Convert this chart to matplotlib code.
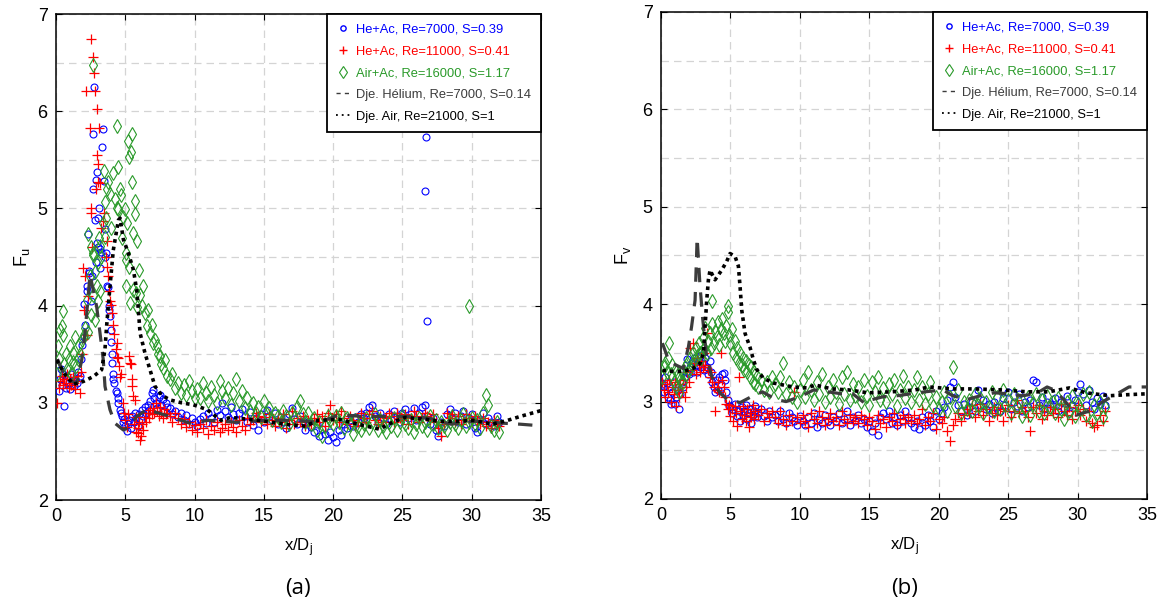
import matplotlib
matplotlib.use("Agg")
import matplotlib.pyplot as plt
from matplotlib.lines import Line2D
from matplotlib.ticker import MultipleLocator

plt.rcParams["font.family"] = ["Liberation Sans", "DejaVu Sans"]
plt.rcParams["mathtext.default"] = "regular"

# ---------------------------------------------------------------- data
# shared far-field stations x/Dj (8.2 .. 32.0)
x_far = [8.2, 8.4, 8.6, 8.8, 9.0, 9.2, 9.4, 9.6, 9.8, 10.0,
         10.2, 10.4, 10.6, 10.8, 11.0, 11.2, 11.4, 11.6, 11.8, 12.0,
         12.2, 12.4, 12.6, 12.8, 13.0, 13.2, 13.4, 13.6, 13.8, 14.0,
         14.2, 14.4, 14.6, 14.8, 15.0, 15.2, 15.4, 15.6, 15.8, 16.0,
         16.2, 16.4, 16.6, 16.8, 17.0, 17.2, 17.4, 17.6, 17.8, 18.0,
         18.2, 18.4, 18.6, 18.8, 19.0, 19.2, 19.4, 19.6, 19.8, 20.0,
         20.2, 20.4, 20.6, 20.8, 21.0, 21.2, 21.4, 21.6, 21.8, 22.0,
         22.2, 22.4, 22.6, 22.8, 23.0, 23.2, 23.4, 23.6, 23.8, 24.0,
         24.2, 24.4, 24.6, 24.8, 25.0, 25.2, 25.4, 25.6, 25.8, 26.0,
         26.2, 26.4, 26.6, 26.8, 27.0, 27.2, 27.4, 27.6, 27.8, 28.0,
         28.2, 28.4, 28.6, 28.8, 29.0, 29.2, 29.4, 29.6, 29.8, 30.0,
         30.2, 30.4, 30.6, 30.8, 31.0, 31.2, 31.4, 31.6, 31.8, 32.0]

# ---- panel (a): F_u
a_he7_x = [0.2, 0.3, 0.35, 0.4, 0.5, 0.6, 0.65, 0.7, 0.8, 0.9, 1.0, 1.1, 1.2, 1.3,
           1.4, 1.5, 1.6, 1.7, 1.8, 1.9, 2.0, 2.05, 2.1, 2.2, 2.25, 2.3, 2.35, 2.4,
           2.5, 2.6, 2.65, 2.7, 2.75, 2.8, 2.85, 2.9, 2.93, 2.95, 3.0, 3.05, 3.1,
           3.15, 3.2, 3.25, 3.35, 3.4, 3.45, 3.5, 3.55, 3.6, 3.7, 3.75, 3.8, 3.85,
           3.9, 3.95, 4.0, 4.02, 4.05, 4.1, 4.13, 4.2, 4.3, 4.38, 4.45, 4.5, 4.6,
           4.66, 4.75, 4.85, 4.9, 5.0, 5.1, 5.2, 5.3, 5.4, 5.5, 5.6, 5.7, 5.8, 5.9,
           6.0, 6.1, 6.2, 6.3, 6.4, 6.5, 6.6, 6.7, 6.8, 6.9, 7.0, 7.1, 7.2, 7.3,
           7.4, 7.5, 7.6, 7.7, 7.8, 7.9, 8.0]
a_he7_y = [3.12, 3.25, 3.35, 3.18, 3.3, 2.97, 3.22, 3.15, 3.28, 3.2, 3.14, 3.3, 3.22, 3.17,
           3.25, 3.2, 3.32, 3.28, 3.45, 3.6, 3.68, 4.02, 3.8, 4.15, 4.2, 4.74, 4.34, 4.36,
           4.05, 4.3, 5.2, 5.77, 6.25, 4.88, 4.45, 5.29, 5.37, 4.64, 4.9, 4.6, 5.0,
           4.39, 4.58, 4.55, 5.63, 5.82, 5.28, 4.79, 4.5, 4.54, 4.2, 4.19, 4.0, 3.96,
           3.89, 3.75, 3.63, 3.41, 3.5, 3.3, 3.24, 3.2, 3.12, 3.1, 3.05, 3.0, 2.93,
           2.9, 2.86, 2.8, 2.83, 2.76, 2.71, 2.78, 2.82, 2.74, 2.86, 2.8, 2.9, 2.84, 2.76,
           2.88, 2.82, 2.93, 2.86, 2.96, 2.9, 2.98, 2.93, 3.02, 3.1, 3.13, 3.05, 3.0, 2.95,
           3.06, 3.08, 2.98, 3.04, 2.92, 3.0, 2.96]
a_he7_far = [2.95, 2.88, 2.92, 2.85, 2.9, 2.82, 2.87, 2.78, 2.84, 2.8,
             2.76, 2.83, 2.86, 2.79, 2.9, 2.84, 2.8, 2.93, 2.87, 3.0,
             2.92, 2.85, 2.96, 2.88, 2.82, 2.9, 2.94, 2.86, 2.8, 2.91,
             2.77, 2.84, 2.72, 2.88, 2.8, 2.93, 2.86, 2.82, 2.9, 2.78,
             2.85, 2.8, 2.74, 2.88, 2.95, 2.83, 2.78, 2.86, 2.81, 2.72,
             2.8, 2.75, 2.7, 2.78, 2.66, 2.73, 2.68, 2.62, 2.7, 2.65,
             2.6, 2.72, 2.67, 2.78, 2.74, 2.82, 2.76, 2.85, 2.8, 2.88,
             2.84, 2.9, 2.96, 2.98, 2.86, 2.8, 2.9, 2.84, 2.78, 2.88,
             2.82, 2.92, 2.86, 2.8, 2.9, 2.94, 2.84, 2.88, 2.95, 2.82,
             2.9, 2.96, 2.98, 2.86, 2.78, 2.84, 2.72, 2.66, 2.8, 2.76,
             2.88, 2.94, 2.84, 2.9, 2.8, 2.86, 2.92, 2.78, 2.84, 2.88,
             2.74, 2.7, 2.82, 2.9, 2.78, 2.84, 2.8, 2.76, 2.86, 2.8]
a_he7_out_x = [26.7, 26.65, 26.8]
a_he7_out_y = [5.73, 5.18, 3.84]

a_he11_x = [0.1, 0.2, 0.3, 0.4, 0.5, 0.6, 0.7, 0.8, 0.9, 1.0, 1.1, 1.2, 1.3, 1.4, 1.5,
            1.6, 1.7, 1.8, 1.9, 1.98, 2.05, 2.12, 2.16, 2.2, 2.3, 2.42, 2.5, 2.52, 2.55,
            2.6, 2.69, 2.77, 2.82, 2.9, 2.94, 2.98, 3.03, 3.05, 3.08, 3.17, 3.25, 3.42,
            3.46, 3.6, 3.65, 3.7, 3.72, 3.8, 3.9, 4.0, 4.05, 4.1, 4.2, 4.3, 4.38, 4.43,
            4.5, 4.55, 4.62, 4.7, 4.8, 4.9, 5.0, 5.1, 5.2, 5.29, 5.34, 5.4, 5.45, 5.5,
            5.58, 5.6, 5.7, 5.75, 5.8, 5.9, 5.94, 6.0, 6.06, 6.1, 6.2, 6.3, 6.4, 6.5,
            6.6, 6.7, 6.8, 6.9, 7.0, 7.1, 7.2, 7.3, 7.4, 7.5, 7.6, 7.7, 7.8, 7.9, 8.0]
a_he11_y = [3.0, 3.15, 3.22, 3.28, 3.18, 3.25, 3.2, 3.3, 3.15, 3.24, 3.18, 3.27, 3.2, 3.14, 3.22,
            3.28, 3.1, 3.32, 3.5, 4.39, 3.95, 4.3, 6.21, 3.7, 4.1, 5.83, 6.74, 5.0, 4.95,
            4.6, 6.56, 6.39, 6.21, 5.2, 6.02, 5.55, 5.27, 5.46, 5.83, 5.26, 4.8, 4.87,
            4.95, 4.5, 4.66, 4.4, 4.3, 4.15, 4.05, 4.01, 3.92, 3.8, 3.71, 3.55, 3.62, 3.47,
            3.46, 3.38, 3.27, 3.3, 3.0, 2.9, 2.82, 2.75, 2.88, 3.48, 3.41, 3.4, 3.24, 3.17,
            3.07, 2.78, 3.03, 2.7, 2.85, 2.74, 2.69, 2.8, 2.62, 2.66, 2.78, 2.72, 2.85, 2.8,
            2.9, 2.84, 2.93, 2.88, 2.95, 2.9, 3.0, 2.92, 2.86, 2.96, 2.9, 2.84, 2.94, 2.88, 2.9]
a_he11_far = [2.86, 2.8, 2.9, 2.84, 2.78, 2.83, 2.75, 2.8, 2.72, 2.77,
              2.7, 2.78, 2.74, 2.82, 2.68, 2.76, 2.72, 2.8, 2.7, 2.74,
              2.78, 2.72, 2.8, 2.75, 2.7, 2.82, 2.76, 2.72, 2.84, 2.78,
              2.82, 2.9, 2.86, 2.8, 2.85, 2.78, 2.88, 2.82, 2.76, 2.84,
              2.8, 2.88, 2.74, 2.82, 2.92, 2.78, 2.84, 2.8, 2.86, 2.76,
              2.82, 2.78, 2.84, 2.88, 2.8, 2.86, 2.76, 2.9, 2.98, 2.82,
              2.88, 2.8, 2.92, 2.84, 2.78, 2.86, 2.82, 2.76, 2.8, 2.9,
              2.84, 2.8, 2.88, 2.92, 2.82, 2.78, 2.86, 2.8, 2.84, 2.9,
              2.86, 2.8, 2.9, 2.84, 2.82, 2.88, 2.78, 2.84, 2.92, 2.86,
              2.8, 2.84, 2.9, 2.86, 2.82, 2.88, 2.8, 2.74, 2.66, 2.78,
              2.9, 2.84, 2.88, 2.8, 2.86, 2.78, 2.82, 2.88, 2.84, 2.8,
              2.86, 2.82, 2.78, 2.84, 2.76, 2.8, 2.74, 2.82, 2.78, 2.76]

a_air16_x = [0.1, 0.17, 0.2, 0.3, 0.41, 0.5, 0.53, 0.6, 0.7, 0.8, 0.9, 1.0, 1.1, 1.2,
             1.25, 1.37, 1.45, 1.55, 1.65, 1.75, 1.85, 2.0, 2.09, 2.2, 2.33, 2.33, 2.45,
             2.5, 2.55, 2.64, 2.69, 2.69, 2.7, 2.8, 2.8, 2.93, 3.0, 3.0, 3.1, 3.17, 3.2,
             3.25, 3.41, 3.46, 3.53, 3.53, 3.6, 3.7, 3.77, 3.89, 4.0, 4.14, 4.25, 4.38,
             4.38, 4.5, 4.5, 4.6, 4.67, 4.75, 4.82, 4.98, 5.06, 5.06, 5.06, 5.1, 5.22,
             5.29, 5.3, 5.34, 5.39, 5.46, 5.46, 5.58, 5.58, 5.7, 5.7, 5.8, 5.82, 5.82,
             6.0, 6.06, 6.2, 6.3, 6.42, 6.54, 6.6, 6.78, 6.9, 7.0, 7.14, 7.26, 7.35, 7.5,
             7.6, 7.75, 7.86, 8.0]
a_air16_y = [3.3, 3.58, 3.45, 3.75, 3.79, 3.94, 3.7, 3.4, 3.5, 3.35, 3.45, 3.58, 3.3, 3.42,
             3.51, 3.68, 3.38, 3.45, 3.6, 3.5, 3.65, 3.7, 3.77, 4.06, 3.73, 4.74, 4.3,
             3.9, 4.6, 4.11, 4.52, 6.48, 4.54, 4.35, 3.85, 4.2, 4.45, 4.05, 4.7, 4.61, 4.15,
             4.5, 4.85, 5.39, 5.07, 4.71, 4.9, 5.2, 5.27, 5.15, 4.8, 5.36, 5.1, 5.85,
             5.0, 5.43, 4.99, 5.2, 5.14, 4.7, 4.91, 4.99, 4.54, 4.47, 4.2, 4.85, 5.69,
             5.53, 4.4, 4.03, 5.58, 5.77, 5.27, 4.75, 4.16, 5.08, 4.94, 4.13, 4.66, 3.99,
             4.37, 4.11, 4.0, 4.2, 3.92, 3.79, 3.95, 3.72, 3.8, 3.62, 3.65, 3.58, 3.5, 3.48,
             3.4, 3.36, 3.44, 3.28]
a_air16_far = [3.25, 3.3, 3.15, 3.2, 3.1, 3.18, 3.08, 3.22, 3.12, 3.05,
               3.14, 3.05, 3.2, 3.1, 3.02, 3.16, 3.08, 3.0, 3.22, 3.12,
               3.05, 3.15, 2.98, 3.1, 3.25, 3.02, 3.12, 2.95, 3.05, 2.92,
               3.0, 2.9, 2.96, 2.85, 3.02, 2.88, 2.95, 2.82, 2.9, 2.86,
               2.8, 2.92, 2.86, 2.78, 2.9, 2.84, 2.96, 3.02, 2.88, 2.8,
               2.9, 2.78, 2.84, 2.72, 2.8, 2.66, 2.76, 2.86, 2.82, 2.78,
               2.86, 2.8, 2.9, 2.74, 2.84, 2.78, 2.68, 2.82, 2.76, 2.72,
               2.78, 2.84, 2.74, 2.8, 2.88, 2.72, 2.82, 2.76, 2.7, 2.8,
               2.76, 2.84, 2.72, 2.8, 2.86, 2.78, 2.74, 2.82, 2.7, 2.78,
               2.84, 2.76, 2.8, 2.72, 2.86, 2.78, 2.82, 2.74, 2.8, 2.76,
               2.72, 2.8, 2.86, 2.78, 2.74, 2.82, 2.88, 2.76, 2.8, 2.84,
               2.78, 2.82, 2.74, 2.9, 3.08, 2.98, 2.76, 2.72, 2.8, 2.7]
a_air16_out_x = [29.8]
a_air16_out_y = [4.0]

a_dje_he_x = [0.1, 0.7, 1.5, 1.85, 2.09, 2.45, 2.93, 3.17, 3.41, 3.53, 3.89, 4.25, 4.86,
              5.34, 5.82, 6.54, 7.5, 8.2, 9.66, 11.0, 13.0, 15.0, 17.0, 19.0, 20.5, 22.0,
              24.0, 25.5, 27.0, 28.5, 30.0, 31.0, 32.3, 33.5, 34.4]
a_dje_he_y = [3.45, 3.25, 3.2, 3.44, 3.72, 4.32, 3.99, 3.72, 3.44, 3.17, 2.93, 2.79, 2.72,
              2.76, 2.86, 2.93, 2.89, 2.86, 2.79, 2.82, 2.8, 2.82, 2.82, 2.8, 2.88, 2.86,
              2.86, 2.86, 2.84, 2.78, 2.81, 2.81, 2.79, 2.78, 2.77]

a_dje_air_x = [0.05, 0.6, 1.25, 1.97, 2.69, 3.29, 3.53, 3.65, 3.85, 4.13, 4.5, 4.62, 4.86,
               5.22, 5.58, 5.82, 5.94, 6.06, 6.42, 6.78, 7.14, 7.62, 8.22, 9.06, 9.9, 10.9,
               11.9, 12.6, 14.6, 16.5, 18.0, 18.9, 20.4, 21.8, 23.3, 24.3, 25.2, 26.7, 27.6,
               29.1, 30.1, 31.5, 32.6, 33.5, 35.0]
a_dje_air_y = [3.44, 3.3, 3.19, 3.22, 3.27, 3.34, 3.55, 3.79, 4.13, 4.57, 4.88, 4.9, 4.68,
               4.54, 4.37, 4.16, 3.96, 3.72, 3.51, 3.34, 3.17, 3.08, 3.03, 3.0, 2.98, 2.93,
               2.82, 2.85, 2.82, 2.78, 2.76, 2.82, 2.83, 2.78, 2.73, 2.8, 2.85, 2.83, 2.81,
               2.81, 2.82, 2.78, 2.82, 2.86, 2.92]

# ---- panel (b): F_v
b_he7_x = [0.1, 0.2, 0.3, 0.4, 0.5, 0.6, 0.65, 0.7, 0.8, 0.9, 1.0, 1.1, 1.2, 1.32, 1.4,
           1.5, 1.6, 1.7, 1.8, 1.9, 2.0, 2.1, 2.2, 2.3, 2.4, 2.5, 2.6, 2.7, 2.8, 2.9,
           3.0, 3.1, 3.2, 3.3, 3.4, 3.5, 3.6, 3.7, 3.8, 3.9, 4.0, 4.1, 4.2, 4.3, 4.4,
           4.5, 4.6, 4.7, 4.8, 4.9, 5.0, 5.1, 5.2, 5.3, 5.45, 5.6, 5.7, 5.8, 5.9, 6.0,
           6.1, 6.2, 6.3, 6.4, 6.5, 6.6, 6.7, 6.8, 6.9, 7.0, 7.2, 7.4, 7.6, 7.8, 8.0]
b_he7_y = [3.18, 3.1, 3.25, 3.19, 3.05, 3.15, 3.02, 2.98, 3.1, 3.2, 2.98, 3.05, 3.12, 2.92, 3.08,
           3.2, 3.15, 3.25, 3.3, 3.44, 3.28, 3.35, 3.4, 3.3, 3.45, 3.38, 3.3, 3.42, 3.35, 3.48,
           3.4, 3.32, 3.45, 3.36, 3.28, 3.42, 3.3, 3.2, 3.15, 3.1, 3.22, 3.12, 3.25, 3.18, 3.28,
           3.29, 3.22, 3.1, 3.02, 2.95, 2.95, 2.88, 2.92, 2.98, 2.85, 2.9, 2.8, 2.94, 2.86, 2.9,
           2.96, 2.82, 2.88, 2.92, 2.78, 2.86, 2.9, 2.95, 2.84, 2.88, 2.92, 2.85, 2.8, 2.9, 2.84]
b_he7_far = [2.86, 2.8, 2.9, 2.82, 2.78, 2.88, 2.84, 2.8, 2.76, 2.85,
             2.8, 2.76, 2.84, 2.78, 2.88, 2.74, 2.82, 2.78, 2.86, 2.8,
             2.76, 2.84, 2.8, 2.88, 2.78, 2.82, 2.9, 2.76, 2.84, 2.8,
             2.86, 2.78, 2.82, 2.74, 2.8, 2.7, 2.78, 2.66, 2.84, 2.88,
             2.82, 2.9, 2.78, 2.84, 2.76, 2.86, 2.8, 2.9, 2.84, 2.78,
             2.74, 2.8, 2.72, 2.84, 2.76, 2.86, 2.8, 2.74, 2.9, 2.82,
             2.88, 2.94, 3.02, 3.15, 3.2, 3.05, 2.96, 2.9, 2.98, 2.86,
             2.94, 3.0, 2.9, 3.12, 2.96, 3.02, 2.92, 2.98, 2.88, 3.0,
             2.94, 2.9, 3.04, 2.96, 3.1, 2.92, 3.0, 2.95, 3.08, 2.9,
             3.0, 2.94, 3.02, 3.22, 3.2, 2.96, 3.05, 2.92, 3.0, 2.98,
             2.95, 3.04, 2.9, 3.0, 2.92, 3.06, 2.88, 2.96, 3.02, 3.1,
             3.18, 3.08, 2.96, 3.12, 3.0, 2.92, 3.04, 2.98, 3.06, 2.96]

b_he11_x = [0.1, 0.2, 0.3, 0.4, 0.5, 0.6, 0.7, 0.8, 0.9, 1.0, 1.1, 1.2, 1.3, 1.4, 1.5,
            1.6, 1.7, 1.8, 1.9, 2.0, 2.1, 2.2, 2.3, 2.4, 2.5, 2.6, 2.7, 2.8, 2.9, 3.0,
            3.1, 3.2, 3.3, 3.4, 3.5, 3.6, 3.7, 3.8, 3.9, 4.0, 4.1, 4.2, 4.3, 4.4, 4.5,
            4.6, 4.7, 4.8, 4.9, 5.0, 5.1, 5.2, 5.3, 5.4, 5.5, 5.6, 5.7, 5.8, 5.9, 6.0,
            6.1, 6.2, 6.3, 6.4, 6.5, 6.6, 6.7, 6.8, 7.0, 7.2, 7.4, 7.6, 7.8, 8.0]
b_he11_y = [3.2, 3.12, 3.05, 3.18, 3.1, 3.22, 3.0, 3.15, 3.08, 3.2, 2.95, 3.12, 3.05, 3.18, 3.1,
            3.22, 3.05, 3.15, 3.3, 3.2, 3.55, 3.32, 3.6, 3.4, 3.28, 3.45, 3.38, 3.3, 3.42, 3.35,
            3.5, 3.38, 3.7, 3.32, 3.25, 3.3, 3.2, 3.15, 2.9, 3.12, 3.2, 3.1, 3.5, 3.22, 3.15,
            3.05, 2.98, 2.92, 2.96, 2.85, 2.92, 2.8, 2.95, 2.88, 2.75, 3.25, 2.9, 2.82, 2.95, 2.86,
            2.8, 2.92, 2.74, 2.88, 2.84, 2.96, 2.82, 2.9, 2.86, 2.92, 2.8, 2.88, 2.84, 2.9]
b_he11_far = [2.84, 2.78, 2.9, 2.82, 2.76, 2.86, 2.8, 3.1, 2.84, 2.78,
              2.86, 2.8, 2.74, 2.88, 2.82, 2.78, 2.9, 2.84, 2.76, 2.82,
              2.88, 2.8, 2.84, 2.76, 2.9, 2.82, 2.78, 2.86, 2.8, 2.84,
              2.78, 2.86, 2.82, 2.76, 2.84, 2.8, 2.72, 2.86, 2.78, 2.82,
              2.74, 2.84, 2.8, 2.88, 2.76, 2.82, 2.86, 2.78, 2.84, 2.8,
              2.86, 2.78, 2.82, 2.92, 2.76, 2.84, 2.8, 2.88, 2.72, 2.82,
              2.78, 2.84, 2.7, 2.6, 2.76, 2.82, 2.88, 2.8, 2.86, 2.92,
              2.88, 2.96, 2.84, 2.9, 2.98, 2.86, 2.92, 2.8, 2.88, 2.94,
              2.86, 2.92, 2.8, 2.9, 2.96, 2.84, 2.9, 3.02, 2.88, 2.94,
              2.9, 2.84, 2.7, 2.94, 2.88, 2.96, 2.82, 2.9, 2.86, 2.94,
              2.88, 2.92, 2.84, 2.98, 2.9, 2.86, 2.94, 2.82, 2.9, 2.96,
              2.86, 2.92, 2.8, 2.9, 2.78, 2.74, 2.76, 2.86, 2.8, 2.9]

b_air16_x = [0.1, 0.2, 0.3, 0.4, 0.5, 0.6, 0.7, 0.8, 0.9, 1.0, 1.1, 1.2, 1.3, 1.4, 1.5,
             1.6, 1.7, 1.8, 1.9, 2.0, 2.1, 2.2, 2.3, 2.4, 2.5, 2.6, 2.7, 2.8, 2.9, 3.0,
             3.1, 3.2, 3.3, 3.4, 3.5, 3.6, 3.65, 3.7, 3.8, 3.9, 4.0, 4.1, 4.2, 4.3, 4.4,
             4.5, 4.6, 4.7, 4.8, 4.85, 4.9, 5.0, 5.1, 5.2, 5.3, 5.4, 5.5, 5.6, 5.7, 5.8,
             5.9, 6.0, 6.1, 6.2, 6.3, 6.4, 6.5, 6.6, 6.7, 6.8, 6.9, 7.0, 7.2, 7.4, 7.6,
             7.8, 8.0]
b_air16_y = [3.25, 3.35, 3.4, 3.3, 3.45, 3.6, 3.28, 3.38, 3.2, 3.32, 3.15, 3.28, 3.1, 3.22, 3.3,
             3.2, 3.35, 3.28, 3.4, 3.32, 3.45, 3.38, 3.5, 3.42, 3.55, 3.47, 3.6, 3.5, 3.45, 3.65,
             3.55, 3.76, 3.5, 3.62, 3.7, 3.55, 4.03, 3.8, 3.6, 3.72, 3.66, 3.82, 3.58, 3.75, 3.85,
             3.7, 3.62, 3.78, 3.92, 3.98, 3.68, 3.6, 3.75, 3.5, 3.62, 3.45, 3.55, 3.4, 3.5, 3.38,
             3.45, 3.32, 3.42, 3.3, 3.38, 3.25, 3.35, 3.2, 3.3, 3.18, 3.26, 3.15, 3.22, 3.12, 3.2,
             3.1, 3.25]
b_air16_far = [3.18, 3.1, 3.25, 3.4, 3.08, 3.2, 3.05, 3.15, 3.0, 3.12,
               3.22, 3.05, 3.3, 3.12, 3.02, 3.2, 3.08, 3.28, 3.0, 3.15,
               3.05, 3.22, 3.1, 2.98, 3.25, 3.08, 3.3, 3.02, 3.18, 3.06,
               3.15, 3.0, 3.22, 3.06, 2.96, 3.2, 3.1, 3.25, 3.02, 3.14,
               3.0, 3.18, 3.08, 3.22, 2.95, 3.12, 3.26, 3.04, 3.15, 3.0,
               3.12, 3.25, 3.02, 3.15, 2.98, 3.08, 3.2, 2.95, 3.05, 2.92,
               3.0, 3.1, 2.9, 3.05, 3.35, 2.95, 3.12, 2.88, 3.0, 2.92,
               3.02, 2.9, 3.08, 2.96, 3.04, 2.88, 3.0, 2.94, 3.1, 2.9,
               3.05, 2.92, 3.12, 2.96, 3.02, 2.88, 3.08, 2.95, 3.0, 2.85,
               2.92, 3.05, 2.86, 2.98, 3.08, 2.9, 3.02, 2.88, 3.06, 2.94,
               3.0, 2.88, 3.04, 2.92, 2.82, 3.0, 2.9, 3.06, 2.85, 2.98,
               2.92, 3.08, 2.86, 3.1, 2.8, 2.96, 2.88, 3.0, 2.84, 2.94]

b_dje_he_x = [0.1, 0.3, 0.55, 1.0, 1.6, 1.97, 2.2, 2.45, 2.6, 2.8, 3.0, 3.25, 3.6, 3.95,
              4.3, 4.8, 5.7, 6.5, 7.3, 8.3, 9.0, 10.0, 11.0, 12.0, 13.0, 13.8, 14.7, 15.2,
              16.0, 17.0, 18.0, 19.0, 20.3, 21.0, 22.0, 23.0, 24.0, 25.0, 26.0, 27.0, 27.8,
              28.3, 29.0, 29.9, 30.3, 31.1, 31.7, 32.6, 33.7, 34.3, 35.0]
b_dje_he_y = [3.6, 3.52, 3.42, 3.38, 3.34, 3.56, 3.77, 4.04, 4.68, 4.2, 3.85, 3.5, 3.28, 3.15,
              3.08, 3.02, 2.99, 3.05, 3.1, 3.02, 3.0, 3.05, 3.12, 3.1, 3.08, 3.08, 2.98, 3.02,
              3.05, 3.06, 3.08, 3.1, 3.12, 3.06, 3.02, 3.06, 3.09, 3.08, 3.06, 3.08, 3.15,
              3.12, 3.02, 2.86, 2.88, 2.91, 2.99, 3.06, 3.15, 3.15, 3.15]

b_dje_air_x = [0.1, 0.8, 1.6, 2.3, 2.8, 3.05, 3.17, 3.29, 3.41, 3.53, 3.7, 3.89, 4.13, 4.37,
               4.73, 4.97, 5.33, 5.57, 5.69, 5.81, 6.05, 6.4, 6.65, 6.89, 7.37, 8.1, 8.8, 9.5,
               10.5, 11.1, 12.3, 13.5, 14.9, 16.6, 18.3, 19.3, 21.0, 22.6, 24.5, 26.4, 27.9,
               29.4, 30.6, 32.3, 33.5, 35.0]
b_dje_air_y = [3.32, 3.31, 3.31, 3.34, 3.39, 3.5, 3.77, 4.04, 4.25, 4.35, 4.3, 4.25, 4.3, 4.35,
               4.44, 4.52, 4.49, 4.39, 4.18, 3.94, 3.7, 3.56, 3.43, 3.33, 3.24, 3.19, 3.17, 3.15,
               3.14, 3.17, 3.13, 3.12, 3.09, 3.1, 3.12, 3.15, 3.13, 3.13, 3.12, 3.1, 3.1,
               3.14, 3.09, 3.06, 3.07, 3.08]

labels = ["He+Ac, Re=7000, S=0.39", "He+Ac, Re=11000, S=0.41",
          "Air+Ac, Re=16000, S=1.17", "Dje. Hélium, Re=7000, S=0.14",
          "Dje. Air, Re=21000, S=1"]

# ---------------------------------------------------------------- style
BLUE, RED, GREEN, DGRAY = "#0000ff", "#ff0000", "#2a9a2a", "#3c3c3c"
pts = dict(linestyle="none")
circ = dict(marker="o", ms=5.0, mfc="none", mec=BLUE, mew=0.8, **pts)
plus = dict(marker="+", ms=6.6, mec=RED, mew=0.9, **pts)
diam = dict(marker="d", ms=7.4, mfc="none", mec=GREEN, mew=0.8, **pts)


def panel(ax, he7, he11, air16, dje_he, dje_air, ylab):
    for xs, ys in he7:
        ax.plot(xs, ys, zorder=3, **circ)
    for xs, ys in he11:
        ax.plot(xs, ys, zorder=4, **plus)
    for xs, ys in air16:
        ax.plot(xs, ys, zorder=5, **diam)
    ax.plot(dje_he[0], dje_he[1], color=DGRAY, lw=2.3, ls=(0, (4.5, 3.2)), zorder=6)
    ax.plot(dje_air[0], dje_air[1], color="black", lw=2.6, ls=(0, (1, 1.1)),
            dash_capstyle="butt", zorder=7)

    ax.set_xlim(0, 35)
    ax.set_ylim(2, 7)
    ax.xaxis.set_major_locator(MultipleLocator(5))
    ax.yaxis.set_major_locator(MultipleLocator(1))
    ax.yaxis.set_minor_locator(MultipleLocator(0.5))
    ax.grid(True, which="both", color="#d4d4d4", lw=0.9, ls=(0, (6, 4)), zorder=0)
    ax.tick_params(which="major", direction="in", top=True, right=True,
                   length=4, width=0.8, labelsize=13, pad=6)
    ax.tick_params(which="minor", length=0)
    for s in ax.spines.values():
        s.set_linewidth(1.1)
    ax.set_xlabel("x/D$_\\mathregular{j}$", fontsize=12)
    ax.xaxis.set_label_coords(0.5, -0.075)
    ax.set_ylabel(ylab, fontsize=13)

    handles = [
        Line2D([], [], marker="o", ms=3.8, mfc="none", mec=BLUE, mew=1.0, ls="none"),
        Line2D([], [], marker="+", ms=5.5, mec=RED, mew=1.0, ls="none"),
        Line2D([], [], marker="d", ms=6, mfc="none", mec=GREEN, mew=0.8, ls="none"),
        Line2D([], [], color=DGRAY, lw=1.0, ls=(0, (3, 3))),
        Line2D([], [], color="black", lw=1.3, ls=(0, (1, 2.2))),
    ]
    leg = ax.legend(handles, labels, loc="upper right", borderaxespad=0,
                    fontsize=9.3, handlelength=1.1, handletextpad=0.45,
                    borderpad=0.75, labelspacing=0.75, fancybox=False,
                    framealpha=1, edgecolor="black")
    leg.get_frame().set_linewidth(1.3)
    for t, c in zip(leg.get_texts(), [BLUE, RED, GREEN, DGRAY, "black"]):
        t.set_color(c)


fig = plt.figure(figsize=(11.63, 6.10), dpi=100)
ax_a = fig.add_axes([0.0482, 0.1803, 0.4170, 0.7967])
ax_b = fig.add_axes([0.5684, 0.1820, 0.4179, 0.7984])

panel(ax_a,
      [(a_he7_x, a_he7_y), (x_far, a_he7_far), (a_he7_out_x, a_he7_out_y)],
      [(a_he11_x, a_he11_y), (x_far, a_he11_far)],
      [(a_air16_x, a_air16_y), (x_far, a_air16_far), (a_air16_out_x, a_air16_out_y)],
      (a_dje_he_x, a_dje_he_y), (a_dje_air_x, a_dje_air_y), "F$_\\mathregular{u}$")
ax_a.yaxis.set_label_coords(-0.05, 0.5)

panel(ax_b,
      [(b_he7_x, b_he7_y), (x_far, b_he7_far)],
      [(b_he11_x, b_he11_y), (x_far, b_he11_far)],
      [(b_air16_x, b_air16_y), (x_far, b_air16_far)],
      (b_dje_he_x, b_dje_he_y), (b_dje_air_x, b_dje_air_y), "F$_\\mathregular{v}$")
ax_b.yaxis.set_label_coords(-0.058, 0.5)

fig.text(0.2565, 0.036, "(a)", fontsize=16, family=["Open Sans", "DejaVu Sans"],
         ha="center", va="center")
fig.text(0.7775, 0.036, "(b)", fontsize=16, family=["Open Sans", "DejaVu Sans"],
         ha="center", va="center")

fig.savefig("out.png", dpi=100)
